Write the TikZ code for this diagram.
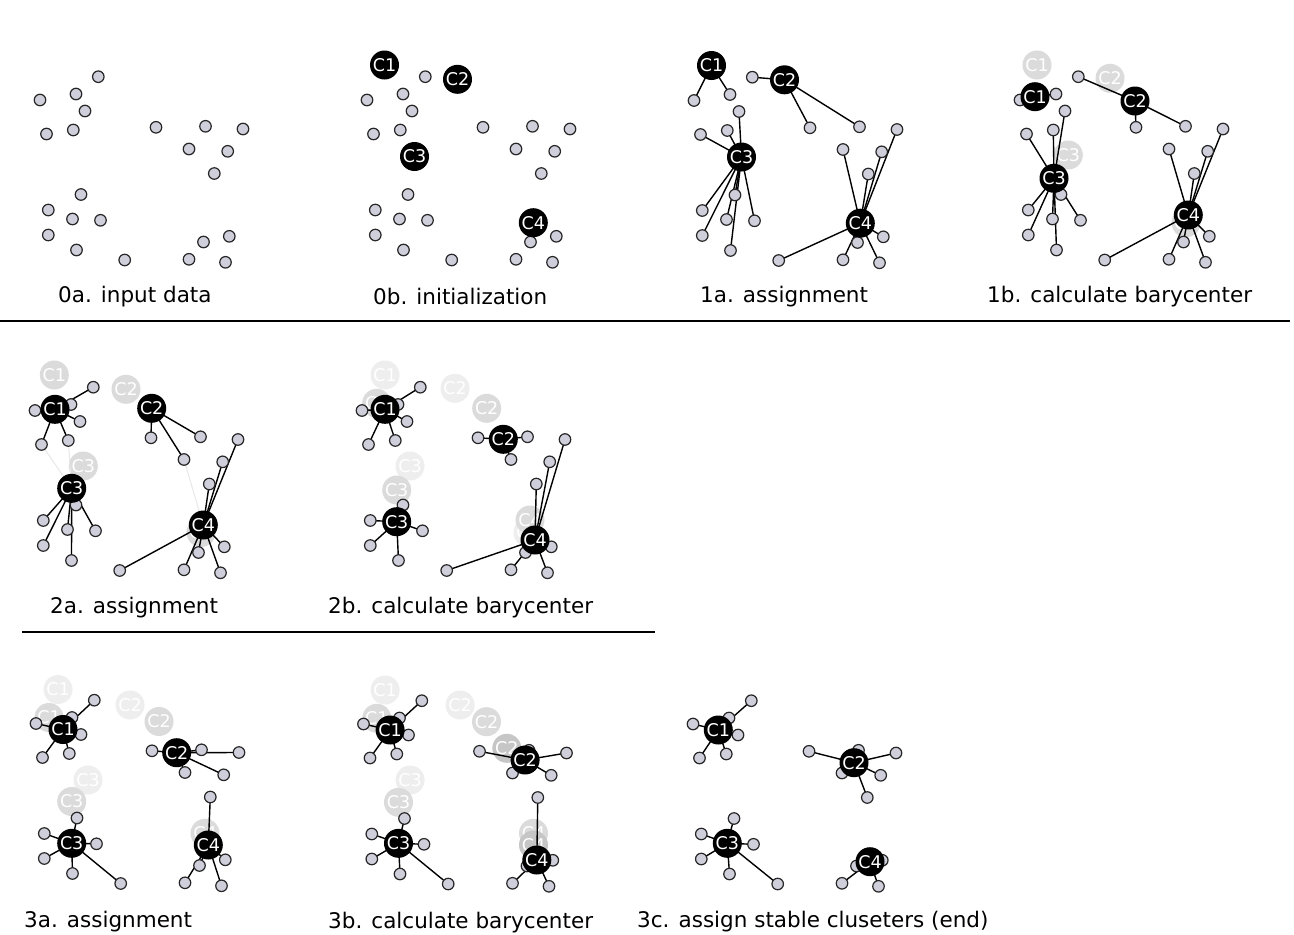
\documentclass[tikz,border=0pt]{standalone}
\usepackage{fontspec}
\setmainfont{DejaVu Sans}
\definecolor{ptfill}{HTML}{CFCFDC}
\pgfdeclarelayer{paper}
\pgfdeclarelayer{ghost}
\pgfdeclarelayer{edges}
\pgfsetlayers{paper,ghost,edges,main}
\tikzset{
  pt/.style={circle, draw=black!85, fill=ptfill, line width=1.2pt, minimum size=11.5pt, inner sep=0pt},
  cen/.style={circle, fill=black, text=white, minimum size=29pt, inner sep=0pt, font=\fontsize{17.5}{17.5}\selectfont},
  ghostfaint/.style={cen, fill=gray!13, text=white},
  ghostmid/.style={cen, fill=gray!28, text=white},
  ghostdark/.style={cen, fill=gray!45, text=white},
  link/.style={line width=1.4pt, black},
  faintlink/.style={line width=1pt, gray!18},
  rule/.style={line width=1.4pt, black},
  lbl/.style={anchor=base west, font=\fontsize{21.5}{21.5}\selectfont, inner sep=0pt}
}
\def\pts{1/98.3/76.7,2/40/100,3/76/94,4/85/111,5/46.5/134,6/73.3/130,7/156/127.3,8/205.5/126.3,9/243/129,10/189/149,11/227.7/151.3,12/214.3/173.5,13/81/194.5,14/48.3/210,15/72.5/219,16/100.5/220.3,17/48.3/235,18/76.5/250,19/124.7/260,20/203.5/242,21/229.3/236.3,22/189/259.3,23/225.5/262.3}
\def\Aone{1/2,2/1,3/1,4/3,5/3,6/3,7/2,8/2,9/4,10/4,11/4,12/4,13/3,14/3,15/3,16/3,17/3,18/3,19/4,20/4,21/4,22/4,23/4}
\def\Atwo{1/1,2/1,3/1,4/1,5/1,6/1,7/2,8/2,9/4,10/2,11/4,12/4,13/3,14/3,15/3,16/3,17/3,18/3,19/4,20/4,21/4,22/4,23/4}
\def\Athree{1/1,2/1,3/1,4/1,5/1,6/1,7/2,8/2,9/2,10/2,11/2,12/4,13/3,14/3,15/3,16/3,17/3,18/3,19/3,20/4,21/4,22/4,23/4}
\def\Afour{1/1,2/1,3/1,4/1,5/1,6/1,7/2,8/2,9/2,10/2,11/2,12/2,13/3,14/3,15/3,16/3,17/3,18/3,19/3,20/4,21/4,22/4,23/4}
\newcommand\placepoints[3]{\foreach \i/\xx/\yy in \pts {\node[pt] (#1-p\i) at ({\xx+#2},{\yy+#3}) {};}}
\newcommand\placecen[4]{\foreach \k/\xx/\yy in {#4} {\node[cen] (#1-c\k) at ({\xx+#2},{\yy+#3}) {C\k};}}
\newcommand\placeghost[5]{\begin{pgfonlayer}{ghost}\foreach \k/\xx/\yy in {#5} {\node[#1] (#2-g\k) at ({\xx+#3},{\yy+#4}) {C\k};}\end{pgfonlayer}}
\newcommand\links[2]{\begin{pgfonlayer}{edges}\foreach \i/\k in #2 {\draw[link] (#1-c\k.center) -- (#1-p\i.center);}\end{pgfonlayer}}
\begin{document}
\begin{tikzpicture}[x=1pt,y=-1pt]
\begin{pgfonlayer}{paper}
\fill[white] (0,0) rectangle (1294,935);
\end{pgfonlayer}
\useasboundingbox (0,0) rectangle (1294,935);
% 0a
\placepoints{s0a}{0}{0}
% 0b
\placepoints{s0b}{327}{0}
\placecen{s0b}{327}{0}{1/57.5/65,2/130.5/79.3,3/87.5/156.5,4/206.3/222.7}
% 1a
\placepoints{s1a}{654}{0.5}
\placecen{s1a}{654}{0.5}{1/57.5/65,2/130.5/79.3,3/87.5/156.5,4/206.3/222.7}
\links{s1a}{\Aone}
% 1b
\placeghost{ghostmid}{s1bi}{980}{0}{1/57/65,2/130/78.3,3/88.3/155,4/206/222.7}
\placepoints{s1b}{980}{0}
\placecen{s1b}{980}{0}{1/55/96.7,2/155/101,3/74/178.3,4/208.3/215}
\links{s1b}{\Aone}
% 2a
\placeghost{ghostmid}{s2ai}{-5}{310.5}{1/59.3/64.5,2/131/78.8,3/88.3/155.5,4/206/222}
\placepoints{s2a}{-5}{310.5}
\placecen{s2a}{-5}{310.5}{1/60/98.8,2/156.7/97.8,3/76.7/177.8,4/208.3/214.5}
\links{s2a}{\Atwo}
\begin{pgfonlayer}{ghost}
\foreach \i/\k in {5/3,6/3,10/4} {\draw[faintlink] (s2a-c\k.center) -- (s2a-p\i.center);}
\end{pgfonlayer}
% 2b
\placeghost{ghostfaint}{s2bi}{322}{310.5}{1/63/64.5,2/133/77.8,3/88/155.5,4/206/222}
\placeghost{ghostmid}{s2bs}{322}{310.5}{1/54.7/92.8,2/164.7/97.8,3/74.7/179.5,4/208/209.5}
\placepoints{s2b}{322}{310.5}
\placecen{s2b}{322}{310.5}{1/63/98.8,2/181.3/128.8,3/74.7/211.2,4/213/229.5}
\links{s2b}{\Atwo}
% 3a
\placeghost{ghostfaint}{s3ai}{-4}{623.5}{1/62/66,2/134/81.5,3/92/156.5}
\placeghost{ghostmid}{s3as}{-4}{623.5}{1/53/94,2/163/98,3/75.7/178,4/209/209.8}
\placepoints{s3a}{-4}{623.5}
\placecen{s3a}{-4}{623.5}{1/67/106,2/180.7/129.2,3/75.7/219.8,4/212.3/221.5}
\links{s3a}{\Athree}
% 3b
\placeghost{ghostfaint}{s3bi}{323.5}{624}{1/61.6/66,2/136.6/81,3/86.6/156}
\placeghost{ghostmid}{s3bs}{323.5}{624}{1/53.3/94.3,2/163/97.7,3/75/178.3,4/210/209.3}
\placeghost{ghostdark}{s3bt}{323.5}{624}{2/183.3/124.3,4/210/221}
\placepoints{s3b}{323.5}{624}
\placecen{s3b}{323.5}{624}{1/66.6/106,2/201.6/136,3/75/219.3,4/213.3/236}
\links{s3b}{\Athree}
% 3c
\placepoints{s3c}{653}{624}
\placecen{s3c}{653}{624}{1/65.3/106,2/201/138.7,3/74.3/219.3,4/217/237.7}
\links{s3c}{\Afour}
% labels
\node[lbl] (l0a) at (58,302) {0a. input data};
\node[lbl] (l0b) at (373,304) {0b. initialization};
\node[lbl] (l1a) at (700,302) {1a. assignment};
\node[lbl] (l1b) at (987,302) {1b. calculate barycenter};
\node[lbl] (l2a) at (50,613) {2a. assignment};
\node[lbl] (l2b) at (328,613) {2b. calculate barycenter};
\node[lbl] (l3a) at (24,927) {3a. assignment};
\node[lbl] (l3b) at (328,928) {3b. calculate barycenter};
\node[lbl] (l3c) at (637,927) {3c. assign stable cluseters (end)};
% rules
\coordinate (r1a) at (0,321);
\coordinate (r1b) at (1290,321);
\coordinate (r2a) at (22,632);
\coordinate (r2b) at (655,632);
\draw[rule] (r1a) -- (r1b);
\draw[rule] (r2a) -- (r2b);
\end{tikzpicture}
\end{document}
